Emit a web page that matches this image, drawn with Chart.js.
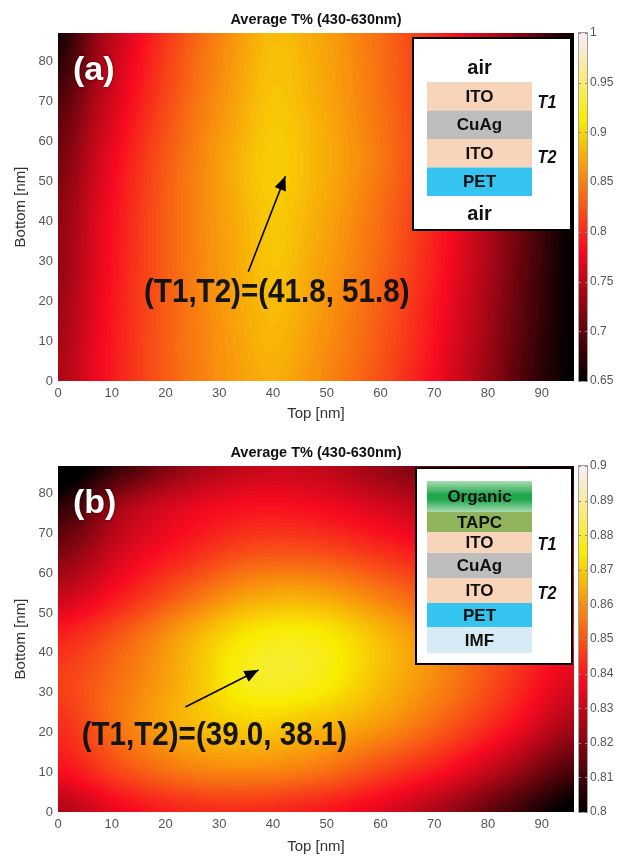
<!DOCTYPE html>
<html>
<head>
<meta charset="utf-8">
<title>Average T% (430-630nm)</title>
<script src="https://cdn.jsdelivr.net/npm/chart.js"></script>
<style>
  html, body { margin: 0; padding: 0; background: #fff; }
  canvas { display: block; }
</style>
</head>
<body>
<canvas id="chart-a" width="618" height="428"></canvas>
<canvas id="chart-b" width="618" height="429"></canvas>
<script>
(() => {
  const FONT = '"Liberation Sans", Arial, Helvetica, sans-serif';

  // ---- panel (a): air / ITO / CuAg / ITO / PET / air ----
  // average transmittance, rows = Bottom [nm], cols = Top [nm]
  const topA = [0, 8, 16, 24, 32, 40, 48, 56, 64, 72, 80, 88, 96];
  const bottomA = [0, 8, 16, 24, 32, 40, 48, 56, 64, 72, 80, 88];
  const transA = [
    [0.741, 0.780, 0.814, 0.842, 0.864, 0.876, 0.859, 0.835, 0.806, 0.771, 0.730, 0.683, 0.650],
    [0.738, 0.779, 0.814, 0.843, 0.865, 0.880, 0.862, 0.839, 0.810, 0.774, 0.733, 0.686, 0.650],
    [0.734, 0.777, 0.813, 0.843, 0.867, 0.883, 0.866, 0.842, 0.813, 0.777, 0.736, 0.689, 0.650],
    [0.730, 0.775, 0.813, 0.844, 0.869, 0.887, 0.869, 0.846, 0.816, 0.781, 0.739, 0.691, 0.650],
    [0.727, 0.773, 0.812, 0.845, 0.870, 0.890, 0.873, 0.850, 0.820, 0.784, 0.742, 0.694, 0.650],
    [0.725, 0.772, 0.812, 0.845, 0.871, 0.891, 0.876, 0.852, 0.822, 0.786, 0.744, 0.696, 0.650],
    [0.719, 0.768, 0.810, 0.845, 0.873, 0.894, 0.879, 0.856, 0.826, 0.791, 0.749, 0.702, 0.650],
    [0.711, 0.763, 0.807, 0.843, 0.873, 0.894, 0.880, 0.858, 0.829, 0.794, 0.753, 0.705, 0.652],
    [0.702, 0.755, 0.801, 0.839, 0.869, 0.892, 0.879, 0.856, 0.828, 0.793, 0.753, 0.706, 0.654],
    [0.688, 0.747, 0.794, 0.834, 0.865, 0.889, 0.876, 0.854, 0.826, 0.792, 0.752, 0.706, 0.654],
    [0.672, 0.740, 0.789, 0.830, 0.862, 0.887, 0.875, 0.853, 0.825, 0.791, 0.752, 0.707, 0.655],
    [0.660, 0.734, 0.784, 0.826, 0.859, 0.884, 0.873, 0.851, 0.824, 0.791, 0.752, 0.707, 0.655]
  ];
  const cbRangeA = [0.65, 1];
  const cbStepA = 0.05;
  const optimumA = ['41.8', '51.8'];
  const arrowA = [{ x: 35.4, y: 27.3 }, { x: 42.3, y: 51.2 }];
  const labelAtA = [40.7, 22.0];
  const layersA = ['air', 'ITO', 'CuAg', 'ITO', 'PET', 'air'];

  // ---- panel (b): Organic / TAPC / ITO / CuAg / ITO / PET / IMF ----
  const topB = [0, 12, 24, 36, 48, 60, 72, 84, 96];
  const bottomB = [0, 11, 22, 33, 44, 55, 66, 77, 88];
  const transB = [
    [0.826, 0.836, 0.842, 0.843, 0.840, 0.834, 0.824, 0.811, 0.798],
    [0.838, 0.849, 0.857, 0.859, 0.856, 0.848, 0.839, 0.826, 0.812],
    [0.843, 0.856, 0.866, 0.870, 0.867, 0.861, 0.851, 0.839, 0.825],
    [0.846, 0.855, 0.866, 0.878, 0.877, 0.867, 0.857, 0.845, 0.833],
    [0.841, 0.851, 0.864, 0.875, 0.876, 0.867, 0.856, 0.846, 0.837],
    [0.829, 0.840, 0.852, 0.862, 0.863, 0.856, 0.847, 0.839, 0.833],
    [0.818, 0.832, 0.841, 0.848, 0.848, 0.843, 0.837, 0.831, 0.826],
    [0.806, 0.825, 0.834, 0.838, 0.837, 0.832, 0.826, 0.820, 0.815],
    [0.792, 0.808, 0.822, 0.829, 0.829, 0.822, 0.815, 0.810, 0.805]
  ];
  const cbRangeB = [0.8, 0.9];
  const cbStepB = 0.01;
  const optimumB = ['39.0', '38.1'];
  const arrowB = [{ x: 23.7, y: 26.4 }, { x: 37.3, y: 35.7 }];
  const labelAtB = [29.1, 19.1];
  const layersB = ['Organic', 'TAPC', 'ITO', 'CuAg', 'ITO', 'PET', 'IMF'];

  const LEVELS = 110;
  const LAYER_FILL = { ITO: '#f8d4ba', CuAg: '#bdbdbd', PET: '#35c3ef', IMF: '#d6ebf6', TAPC: '#8fb45b' };

  // MATLAB "hot" (black -> red -> yellow -> white), toned a little like the printed figure
  function hot(t) {
    t = Math.min(1, Math.max(0, t));
    const r = Math.min(1, t / 0.375);
    const g = Math.min(1, Math.max(0, (t - 0.375) / 0.375));
    const b = Math.max(0, (t - 0.75) / 0.25);
    return [r * 248, g * 226 + 10 * r, Math.max(b * 255, 32 * r * (1 - g))];
  }

  function cubic(p0, p1, p2, p3, t) {
    return p1 + 0.5 * t * (p2 - p0 + t * (2 * p0 - 5 * p1 + 4 * p2 - p3 + t * (3 * (p1 - p2) + p3 - p0)));
  }

  // smooth (Catmull-Rom) lookup in the read grid
  function sampleGrid(xs, ys, z, x, y) {
    const nx = xs.length, ny = ys.length;
    let fx = (x - xs[0]) / (xs[1] - xs[0]);
    let fy = (y - ys[0]) / (ys[1] - ys[0]);
    fx = Math.min(nx - 1, Math.max(0, fx));
    fy = Math.min(ny - 1, Math.max(0, fy));
    const i = Math.min(Math.floor(fx), nx - 2), j = Math.min(Math.floor(fy), ny - 2);
    const tx = fx - i, ty = fy - j;
    const ci = k => Math.min(nx - 1, Math.max(0, k));
    const cj = k => Math.min(ny - 1, Math.max(0, k));
    const row = jj => {
      const r = z[cj(jj)];
      return cubic(r[ci(i - 1)], r[ci(i)], r[ci(i + 1)], r[ci(i + 2)], tx);
    };
    return cubic(row(j - 1), row(j), row(j + 1), row(j + 2), ty);
  }

  function drawHeat(chart, p) {
    const { ctx, chartArea: a, scales: { x, y } } = chart;
    const w = Math.round(a.right - a.left), h = Math.round(a.bottom - a.top);
    const img = ctx.createImageData(w, h);
    const [lo, hi] = p.range;
    const step = (hi - lo) / LEVELS;
    for (let j = 0; j < h; j++) {
      const vy = y.getValueForPixel(a.top + j + 0.5);
      for (let i = 0; i < w; i++) {
        const vx = x.getValueForPixel(a.left + i + 0.5);
        let v = sampleGrid(p.xs, p.ys, p.z, vx, vy);
        v = lo + (Math.floor((v - lo) / step) + 0.5) * step;
        const c = hot((v - lo) / (hi - lo));
        const k = (j * w + i) * 4;
        img.data[k] = c[0]; img.data[k + 1] = c[1]; img.data[k + 2] = c[2]; img.data[k + 3] = 255;
      }
    }
    ctx.putImageData(img, Math.round(a.left), Math.round(a.top));
  }

  function drawColorbar(chart, p) {
    const { ctx, chartArea: a, scales: { cb } } = chart;
    const [lo, hi] = p.range;
    const x0 = a.right + 5, bw = 8;
    ctx.save();
    for (let py = Math.floor(cb.top); py < Math.ceil(cb.bottom); py++) {
      const c = hot((cb.getValueForPixel(py + 0.5) - lo) / (hi - lo));
      ctx.fillStyle = `rgb(${c[0] | 0},${c[1] | 0},${c[2] | 0})`;
      ctx.fillRect(x0, py, bw, 1);
    }
    ctx.strokeStyle = '#a0a0a0';
    ctx.lineWidth = 1;
    ctx.strokeRect(x0 - 0.5, cb.top - 0.5, bw + 1, cb.bottom - cb.top + 1);
    ctx.strokeStyle = '#888';
    cb.ticks.forEach(t => {
      const py = Math.round(cb.getPixelForValue(t.value)) + 0.5;
      ctx.beginPath();
      ctx.moveTo(x0 + bw - 2, py); ctx.lineTo(x0 + bw, py);
      ctx.moveTo(x0, py); ctx.lineTo(x0 + 2, py);
      ctx.stroke();
    });
    ctx.restore();
  }

  function drawArrowHead(chart, p) {
    const { ctx, scales: { x, y } } = chart;
    const [s, e] = p.arrow;
    const x1 = x.getPixelForValue(s.x), y1 = y.getPixelForValue(s.y);
    const x2 = x.getPixelForValue(e.x), y2 = y.getPixelForValue(e.y);
    const ang = Math.atan2(y2 - y1, x2 - x1), L = 14, W = 6;
    const c = Math.cos(ang), sn = Math.sin(ang);
    ctx.save();
    ctx.fillStyle = '#000';
    ctx.beginPath();
    ctx.moveTo(x2, y2);
    ctx.lineTo(x2 - L * c + W * sn, y2 - L * sn - W * c);
    ctx.lineTo(x2 - L * c - W * sn, y2 - L * sn + W * c);
    ctx.closePath();
    ctx.fill();
    ctx.restore();
  }

  function drawLabel(chart, p) {
    const { ctx, scales: { x, y } } = chart;
    const cx = x.getPixelForValue(p.labelAt[0]), cy = y.getPixelForValue(p.labelAt[1]);
    ctx.save();
    ctx.translate(cx, cy);
    ctx.scale(0.87, 1);
    ctx.font = `bold 34px ${FONT}`;
    ctx.textAlign = 'center';
    ctx.textBaseline = 'middle';
    ctx.fillStyle = '#141414';
    ctx.fillText(`(T1,T2)=(${p.opt[0]}, ${p.opt[1]})`, 0, 0);
    ctx.restore();
  }

  function drawInset(chart, p) {
    const { ctx, chartArea: a } = chart;
    const L = a.left, T = a.top, s = p.inset;
    ctx.save();
    ctx.fillStyle = '#fff';
    ctx.fillRect(L + s.box[0], T + s.box[1], s.box[2], s.box[3]);
    ctx.strokeStyle = '#000';
    ctx.lineWidth = 2;
    ctx.strokeRect(L + s.box[0], T + s.box[1], s.box[2], s.box[3]);
    ctx.textAlign = 'center';
    ctx.textBaseline = 'middle';
    p.layers.forEach((name, i) => {
      const [ty, th] = s.rows[i];
      const top = T + ty;
      if (name === 'Organic') {
        const g = ctx.createLinearGradient(0, top, 0, top + th);
        g.addColorStop(0, '#a9dcb3');
        g.addColorStop(0.45, '#1fa64b');
        g.addColorStop(0.6, '#22a84d');
        g.addColorStop(1, '#a9dcb3');
        ctx.fillStyle = g;
        ctx.fillRect(L + s.colX, top, s.colW, th);
      } else if (LAYER_FILL[name]) {
        ctx.fillStyle = LAYER_FILL[name];
        ctx.fillRect(L + s.colX, top, s.colW, th);
      }
      ctx.fillStyle = '#111';
      ctx.font = name === 'air' ? `bold 20px ${FONT}` : `bold 17px ${FONT}`;
      ctx.fillText(name, L + s.colX + s.colW / 2, top + th / 2 + 1);
    });
    s.marks.forEach(([txt, mx, my]) => {
      ctx.save();
      ctx.translate(L + mx, T + my);
      ctx.scale(0.85, 1);
      ctx.font = `italic bold 19px ${FONT}`;
      ctx.fillStyle = '#111';
      ctx.fillText(txt, 0, 0);
      ctx.restore();
    });
    ctx.restore();
  }

  function drawTagAndTitle(chart, p) {
    const { ctx, chartArea: a } = chart;
    ctx.save();
    ctx.font = `bold 34px ${FONT}`;
    ctx.textAlign = 'left';
    ctx.textBaseline = 'middle';
    ctx.shadowColor = 'rgba(0,0,0,0.55)';
    ctx.shadowBlur = 3;
    ctx.fillStyle = '#fff';
    ctx.fillText(p.tag, a.left + 15, a.top + 38);
    ctx.restore();

    ctx.save();
    ctx.font = `bold 14.5px ${FONT}`;
    ctx.textAlign = 'center';
    ctx.textBaseline = 'middle';
    ctx.fillStyle = '#111';
    ctx.fillText('Average T% (430-630nm)', (a.left + a.right) / 2, a.top - 13);
    ctx.restore();
  }

  function makeOverlay(p) {
    return {
      id: 'overlay',
      beforeDatasetsDraw(chart) { drawHeat(chart, p); drawColorbar(chart, p); },
      afterDatasetsDraw(chart) {
        drawArrowHead(chart, p);
        drawLabel(chart, p);
        drawInset(chart, p);
        drawTagAndTitle(chart, p);
      }
    };
  }

  function makeChart(id, p) {
    const tickFont = { family: FONT, size: 13 };
    return new Chart(document.getElementById(id), {
      type: 'scatter',
      data: {
        datasets: [{
          data: p.arrow,
          showLine: true,
          borderColor: '#000',
          borderWidth: 1.6,
          pointRadius: 0,
          fill: false
        }]
      },
      options: {
        responsive: false,
        animation: false,
        devicePixelRatio: 1,
        events: [],
        layout: { padding: { top: p.padTop, left: 0, right: 0, bottom: 0 } },
        plugins: { legend: { display: false }, tooltip: { enabled: false } },
        scales: {
          x: {
            type: 'linear', position: 'bottom', min: 0, max: 96,
            grid: { display: false, drawTicks: false }, border: { display: false },
            ticks: { stepSize: 10, includeBounds: false, padding: 5, color: '#555', font: tickFont },
            title: { display: true, text: 'Top [nm]', color: '#333', font: { family: FONT, size: 15 },
                     padding: { top: 0, bottom: p.xTitlePad } },
            afterFit: s => { s.height = p.xAxisH; }
          },
          y: {
            type: 'linear', position: 'left', min: 0, max: 87,
            grid: { display: false, drawTicks: false }, border: { display: false },
            ticks: { stepSize: 10, includeBounds: false, padding: 5, color: '#555', font: tickFont },
            title: { display: true, text: 'Bottom [nm]', color: '#333', font: { family: FONT, size: 15 },
                     padding: { top: 12, bottom: 0 } },
            afterFit: s => { s.width = 58; }
          },
          cb: {
            type: 'linear', position: 'right', min: p.range[0], max: p.range[1],
            grid: { display: false, drawTicks: false }, border: { display: false },
            ticks: {
              stepSize: p.cbStep, padding: 16, color: '#555', font: { family: FONT, size: 12 },
              callback: v => String(Number(v.toFixed(2)))
            },
            afterFit: s => { s.width = 44; }
          }
        }
      },
      plugins: [makeOverlay(p)]
    });
  }

  makeChart('chart-a', {
    xs: topA, ys: bottomA, z: transA, range: cbRangeA, cbStep: cbStepA,
    opt: optimumA, arrow: arrowA, labelAt: labelAtA, layers: layersA, tag: '(a)',
    padTop: 33, xAxisH: 47, xTitlePad: 5,
    inset: {
      box: [355, 5, 158, 192], colX: 369, colW: 105,
      rows: [[20, 28], [49, 28.5], [77.5, 28.5], [106, 28.5], [134.5, 28.5], [166, 28]],
      marks: [['T1', 489, 70], ['T2', 489, 125]]
    }
  });

  makeChart('chart-b', {
    xs: topB, ys: bottomB, z: transB, range: cbRangeB, cbStep: cbStepB,
    opt: optimumB, arrow: arrowB, labelAt: labelAtB, layers: layersB, tag: '(b)',
    padTop: 38, xAxisH: 45, xTitlePad: 1.5,
    inset: {
      box: [358, 2, 156, 196], colX: 369, colW: 105,
      rows: [[15, 31], [46, 20], [66, 21], [87, 25], [112, 25], [137, 24], [161, 26]],
      marks: [['T1', 489, 79], ['T2', 489, 128]]
    }
  });
})();
</script>
</body>
</html>
